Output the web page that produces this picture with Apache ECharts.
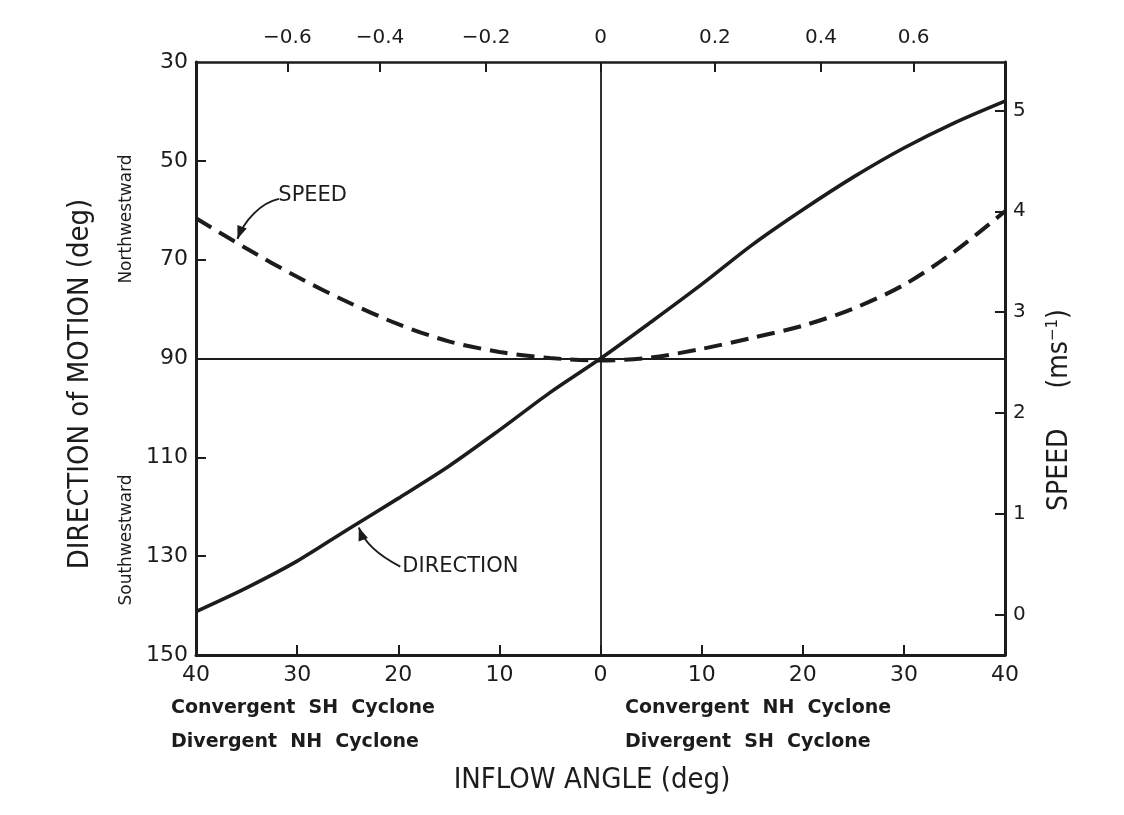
<!DOCTYPE html>
<html><head><meta charset="utf-8">
<script src="https://cdn.jsdelivr.net/npm/echarts@6/dist/echarts.min.js"></script>
<style>html,body{margin:0;padding:0;background:#fff}#c{width:1124px;height:815px}</style>
</head><body><div id="c"></div>
<script>
// ---- data ----
const inflowAngles = [-40,-35,-30,-25,-20,-15,-10,-5,0,5,10,15,20,25,30,35,40];
const directionDeg = [141.2,136.4,131.0,124.6,118.3,111.8,104.5,96.9,90.0,82.6,75.0,67.0,59.9,53.3,47.4,42.3,37.9];
const speedMs      = [3.93,3.63,3.35,3.10,2.88,2.71,2.605,2.545,2.52,2.55,2.635,2.745,2.865,3.035,3.27,3.60,4.00];
const bottomTicks = [-40,-30,-20,-10,0,10,20,30,40];
const topTanTicks = [-0.6,-0.4,-0.2,0,0.2,0.4,0.6];
const leftTicks = [30,50,70,90,110,130,150];
const rightTicks = [0,1,2,3,4,5];

const INK = '#1c1c1c';
const FONT = "'DejaVu Sans', 'Liberation Sans', sans-serif";
const TFONT = "'DejaVu Sans Condensed', 'DejaVu Sans', sans-serif";
const topPos = topTanTicks.map(t => Math.atan(t) * 180 / Math.PI);
const fmtTan = v => {
  let best = 0, bd = 1e9;
  topPos.forEach((p, i) => { const d = Math.abs(p - v); if (d < bd) { bd = d; best = i; } });
  const t = topTanTicks[best];
  if (t === 0) return '0';
  return (t < 0 ? '\u2212' : '') + Math.abs(t).toFixed(1);
};

const chart = echarts.init(document.getElementById('c'), null, {renderer: 'canvas'});
const axisLine = {show: true, onZero: false, lineStyle: {color: INK, width: 3}};
const lbl = (extra) => Object.assign({color: INK, fontSize: 22, fontFamily: FONT}, extra);

chart.setOption({
  backgroundColor: '#ffffff',
  animation: false,
  grid: {left: 196, right: 119, top: 62, bottom: 160},
  xAxis: [
    {type: 'value', position: 'bottom', min: -40, max: 40,
     axisLine: axisLine,
     axisTick: {inside: true, length: 10, lineStyle: {color: INK, width: 2}, customValues: bottomTicks.slice(1, -1)},
     axisLabel: lbl({customValues: bottomTicks, formatter: v => String(Math.abs(v)), margin: 9}),
     splitLine: {show: false}},
    {type: 'value', position: 'top', min: -40, max: 40,
     axisLine: {show: true, onZero: false, lineStyle: {color: INK, width: 2.5}},
     axisTick: {inside: true, length: 10, lineStyle: {color: INK, width: 2}, customValues: topPos},
     axisLabel: lbl({customValues: topPos, formatter: fmtTan, margin: 14, fontSize: 20}),
     splitLine: {show: false}}
  ],
  yAxis: [
    {type: 'value', position: 'left', inverse: true, min: 30, max: 150,
     axisLine: axisLine,
     axisTick: {inside: true, length: 10, lineStyle: {color: INK, width: 2}, customValues: leftTicks.slice(1, -1)},
     axisLabel: lbl({customValues: leftTicks, margin: 8}),
     splitLine: {show: false}},
    {type: 'value', position: 'right', min: -0.4, max: 5.48,
     axisLine: axisLine,
     axisTick: {inside: true, length: 10, lineStyle: {color: INK, width: 2}, customValues: rightTicks},
     axisLabel: lbl({customValues: rightTicks, margin: 8, fontSize: 20}),
     splitLine: {show: false}}
  ],
  series: [
    {name: 'DIRECTION', type: 'line', xAxisIndex: 0, yAxisIndex: 0,
     data: inflowAngles.map((a, i) => [a, directionDeg[i]]),
     smooth: 0.3, showSymbol: false, symbol: 'none',
     lineStyle: {color: INK, width: 3.6},
     markLine: {silent: true, symbol: 'none', label: {show: false},
       lineStyle: {color: INK, width: 1.8, type: 'solid'},
       data: [{xAxis: 0}, {yAxis: 90}]},
     z: 3},
    {name: 'SPEED', type: 'line', xAxisIndex: 0, yAxisIndex: 1,
     data: inflowAngles.map((a, i) => [a, speedMs[i]]),
     smooth: 0.3, showSymbol: false, symbol: 'none',
     lineStyle: {color: INK, width: 4, type: [18, 9]},
     z: 3}
  ]
});

// ---- annotations (anchored in data space) ----
const P = (a, d) => chart.convertToPixel({xAxisIndex: 0, yAxisIndex: 0}, [a, d]);
function arrowHead(tip, from, len, half) {
  const dx = tip[0] - from[0], dy = tip[1] - from[1];
  const L = Math.hypot(dx, dy); const ux = dx / L, uy = dy / L;
  const bx = tip[0] - ux * len, by = tip[1] - uy * len;
  return [[tip[0], tip[1]], [bx - uy * half, by + ux * half], [bx + uy * half, by - ux * half]];
}
function curvedArrow(s, c1, c2, e) {
  return [
    {type: 'bezierCurve', silent: true,
     shape: {x1: s[0], y1: s[1], cpx1: c1[0], cpy1: c1[1], cpx2: c2[0], cpy2: c2[1], x2: e[0], y2: e[1]},
     style: {stroke: INK, lineWidth: 2, fill: null}},
    {type: 'polygon', silent: true, shape: {points: arrowHead(e, c2, 13, 5)}, style: {fill: INK}}
  ];
}
const sLab = P(-28.3, 57.1);
const sA = [P(-31.8, 57.7), P(-33.6, 58.5), P(-35.2, 62.0), P(-35.9, 65.8)];
const dLab = P(-19.6, 132.1);
const dA = [P(-19.8, 132.1), P(-22.0, 129.8), P(-23.4, 127.0), P(-23.9, 124.2)];

const txt = (x, y, text, font, extra) => ({type: 'text', silent: true, x: x, y: y,
  style: Object.assign({text: text, fill: INK, font: font, align: 'center', verticalAlign: 'middle'}, extra || {})});
const rot = el => Object.assign(el, {rotation: Math.PI / 2});

chart.setOption({graphic: [
  txt(sLab[0] - 36, sLab[1], 'SPEED', '21px ' + FONT, {align: 'left'}),
  ...curvedArrow(...sA),
  txt(dLab[0], dLab[1], 'DIRECTION', '21px ' + FONT, {align: 'left'}),
  ...curvedArrow(...dA),
  rot(txt(80, 384, 'DIRECTION of MOTION (deg)', '29px ' + TFONT)),
  rot(txt(127, 219, 'Northwestward', '17px ' + FONT)),
  rot(txt(127, 540, 'Southwestward', '17px ' + FONT)),
  {type: 'text', silent: true, x: 1060, y: 410, rotation: Math.PI / 2,
   style: {text: '{a|SPEED     (ms}{s|\u22121}{a|)}', align: 'center', verticalAlign: 'middle',
     rich: {a: {fontSize: 28, fontFamily: TFONT, fill: INK},
            s: {fontSize: 15, fontFamily: FONT, fill: INK, padding: [0, 0, 14, 0]}}}},
  txt(171, 708, 'Convergent  SH  Cyclone', 'bold 19px ' + FONT, {align: 'left'}),
  txt(171, 742, 'Divergent  NH  Cyclone', 'bold 19px ' + FONT, {align: 'left'}),
  txt(625, 708, 'Convergent  NH  Cyclone', 'bold 19px ' + FONT, {align: 'left'}),
  txt(625, 742, 'Divergent  SH  Cyclone', 'bold 19px ' + FONT, {align: 'left'}),
  txt(592, 780, 'INFLOW ANGLE (deg)', '29px ' + TFONT)
]});
</script>
</body></html>
